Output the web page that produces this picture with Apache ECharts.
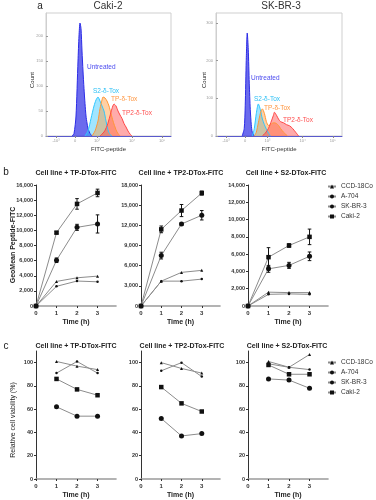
<!DOCTYPE html>
<html>
<head>
  <meta charset="utf-8">
</head>
<body style="margin: 0; background: #fff">
  <div id="container" style="width: 376px; height: 500px"></div>
  <script src="https://cdn.jsdelivr.net/npm/echarts@6/dist/echarts.min.js"></script>
  <script>
    // ---- panel a : flow histograms (x = FITC channel position, y = count)
    var histTicks = [10, 29, 51, 86, 116];
    var histTickLabels = ['-10³', '0', '10³', '10⁴', '10⁵'];

    var cakiUntreated = [[26,0],[28,5],[30,40],[32,150],[33,200],[34,226],[35,215],[36,170],[37,130],[38,95],[39,65],[40,40],[41,26],[42,15],[44,5],[46,0]];
    var cakiS2 = [[39,0],[42,10],[45,35],[48,60],[50,72],[52,78],[54,70],[56,60],[58,50],[60,30],[62,12],[64,3],[66,0]];
    var cakiTP = [[46,0],[49,10],[52,30],[54,55],[56,72],[57,78],[59,76],[61,70],[63,60],[65,45],[67,30],[69,18],[71,8],[74,0]];
    var cakiTP2 = [[54,0],[58,8],[61,20],[64,40],[66,55],[68,64],[70,60],[72,50],[74,42],[76,35],[78,25],[80,18],[82,10],[84,4],[86,0]];

    var skUntreated = [[26,0],[28,20],[29,80],[30,200],[31,273],[32,230],[33,140],[34,70],[35,30],[36,10],[38,0]];
    var skS2 = [[36,0],[38,20],[40,60],[42,85],[44,70],[46,45],[48,30],[50,18],[52,8],[54,0]];
    var skTP = [[38,0],[40,10],[42,35],[44,60],[46,72],[48,60],[50,38],[52,28],[54,30],[56,34],[58,35],[60,33],[62,28],[64,20],[67,10],[71,0]];
    var skTP2 = [[46,0],[49,8],[52,20],[55,40],[57,55],[58,63],[60,55],[62,45],[64,38],[67,35],[70,30],[73,27],[76,20],[79,10],[82,0]];

    // ---- panel b : GeoMean Peptide-FITC vs time
    var times = [0, 1, 2, 3];
    var lines = ['CCD-18Co', 'A-704', 'SK-BR-3', 'Caki-2'];

    var tpCCD = [0, 3250, 3730, 3950];
    var tpA704 = [0, 2600, 3300, 3200];
    var tpSKBR3 = [0, 6050, 10400, 10850];
    var tpCaki = [0, 9700, 13500, 14950];
    var tpSKBR3Err = [0, 300, 400, 1200];
    var tpCakiErr = [0, 150, 700, 500];

    var tp2CCD = [0, 3700, 5000, 5300];
    var tp2A704 = [0, 3700, 3700, 4000];
    var tp2SKBR3 = [0, 7500, 12200, 13500];
    var tp2Caki = [0, 11400, 14200, 16800];
    var tp2SKBR3Err = [0, 500, 200, 700];
    var tp2CakiErr = [0, 500, 900, 300];

    var s2CCD = [0, 1600, 1550, 1550];
    var s2A704 = [0, 1350, 1400, 1350];
    var s2SKBR3 = [0, 4300, 4700, 5750];
    var s2Caki = [0, 5650, 7000, 8000];
    var s2SKBR3Err = [0, 400, 350, 500];
    var s2CakiErr = [0, 1100, 200, 900];

    // ---- panel c : relative cell viability (%)
    var vTimes = [1, 2, 3];
    var vTpCCD = [101, 97, 94];
    var vTpA704 = [91, 101, 91];
    var vTpSKBR3 = [62, 54, 54];
    var vTpCaki = [86, 77, 72];

    var vTp2CCD = [100, 95, 91];
    var vTp2A704 = [93, 100, 88];
    var vTp2SKBR3 = [52, 37, 39];
    var vTp2Caki = [79, 65, 58];

    var vS2CCD = [101, 96, 107];
    var vS2A704 = [99, 96, 94];
    var vS2SKBR3 = [86, 85, 78];
    var vS2Caki = [98, 90, 90];

    var dom = document.getElementById('container');
    var myChart = echarts.init(dom, null, { renderer: 'canvas' });
    var font = 'Arial';

    var markers = {
      'CCD-18Co': { symbol: 'triangle', size: 3 },
      'A-704': { symbol: 'circle', size: 2.5 },
      'SK-BR-3': { symbol: 'circle', size: 5 },
      'Caki-2': { symbol: 'rect', size: 4.5 }
    };

    function zip(xs, ys) {
      return xs.map(function (x, i) { return [x, ys[i]]; });
    }

    function histSeries(name, data, idx, color, opacity) {
      return {
        name: name,
        type: 'line',
        xAxisIndex: idx,
        yAxisIndex: idx,
        data: data,
        smooth: 0.25,
        symbol: 'none',
        lineStyle: { color: color, width: 1 },
        areaStyle: { color: color, opacity: opacity },
        silent: true
      };
    }

    function lineSeries(name, xs, ys, idx) {
      return {
        name: name,
        type: 'line',
        xAxisIndex: idx,
        yAxisIndex: idx,
        data: zip(xs, ys),
        symbol: markers[name].symbol,
        symbolSize: markers[name].size,
        showSymbol: true,
        itemStyle: { color: '#111' },
        lineStyle: { color: '#8c8c8c', width: 1 },
        z: 3
      };
    }

    function errorSeries(vals, errs, idx) {
      var data = [];
      times.forEach(function (t, i) {
        if (errs[i] > 0) data.push([t, vals[i] - errs[i], vals[i] + errs[i]]);
      });
      return {
        type: 'custom',
        xAxisIndex: idx,
        yAxisIndex: idx,
        data: data,
        encode: { x: 0, y: [1, 2] },
        z: 4,
        renderItem: function (params, api) {
          var x = api.value(0);
          var lo = api.coord([x, api.value(1)]);
          var hi = api.coord([x, api.value(2)]);
          var w = 1.8;
          var st = { stroke: '#111', lineWidth: 1 };
          return {
            type: 'group',
            children: [
              { type: 'line', shape: { x1: lo[0], y1: lo[1], x2: hi[0], y2: hi[1] }, style: st },
              { type: 'line', shape: { x1: lo[0] - w, y1: lo[1], x2: lo[0] + w, y2: lo[1] }, style: st },
              { type: 'line', shape: { x1: hi[0] - w, y1: hi[1], x2: hi[0] + w, y2: hi[1] }, style: st }
            ]
          };
        }
      };
    }

    var grids = [
      { left: 46, top: 13, width: 125, height: 123, show: true, borderColor: '#cfcfcf', borderWidth: 1 },
      { left: 216, top: 13, width: 126, height: 123, show: true, borderColor: '#cfcfcf', borderWidth: 1 },
      { left: 36, top: 185, width: 80, height: 121 },
      { left: 141, top: 185, width: 79, height: 121 },
      { left: 248, top: 185, width: 80, height: 121 },
      { left: 36, top: 351, width: 80, height: 130 },
      { left: 141, top: 351, width: 79, height: 130 },
      { left: 248, top: 351, width: 80, height: 130 }
    ];

    function histX(idx) {
      return {
        type: 'value', gridIndex: idx, min: 0, max: 125,
        name: 'FITC-peptide', nameLocation: 'middle', nameGap: 10,
        nameTextStyle: { fontSize: 6, color: '#333', fontFamily: font },
        axisLine: { lineStyle: { color: '#5a5acc', width: 1 } },
        axisTick: { customValues: histTicks, length: 2, lineStyle: { color: '#888' } },
        axisLabel: {
          customValues: histTicks, fontSize: 4, color: '#999', margin: 3, fontFamily: font,
          formatter: function (v) { return histTickLabels[histTicks.indexOf(v)]; }
        },
        splitLine: { show: false }
      };
    }

    function histY(idx, max, ticks) {
      return {
        type: 'value', gridIndex: idx, min: 0, max: max,
        axisLine: { show: true, lineStyle: { color: '#cfcfcf' } },
        axisTick: { customValues: ticks, length: 2, inside: true, lineStyle: { color: '#999' } },
        axisLabel: { customValues: ticks, fontSize: 4, color: '#999', margin: 3, fontFamily: font },
        splitLine: { show: false }
      };
    }

    function timeX(idx) {
      return {
        type: 'value', gridIndex: idx, min: 0, max: 3.9,
        name: 'Time (h)', nameLocation: 'middle', nameGap: 13,
        nameTextStyle: { fontSize: 7, fontWeight: 'bold', color: '#222', fontFamily: font },
        axisLine: { lineStyle: { color: '#9a9a9a', width: 1.6 } },
        axisTick: { customValues: [0, 1, 2, 3], length: 2, lineStyle: { color: '#333' } },
        axisLabel: { customValues: [0, 1, 2, 3], fontSize: 6, fontWeight: 'bold', color: '#333', margin: 4, fontFamily: font },
        splitLine: { show: false }
      };
    }

    function valueY(idx, max, interval) {
      return {
        type: 'value', gridIndex: idx, min: 0, max: max, interval: interval,
        axisLine: { show: true, lineStyle: { color: '#333', width: 1 } },
        axisTick: { show: true, length: 2, lineStyle: { color: '#333' } },
        axisLabel: { fontSize: 5.5, fontWeight: 'bold', color: '#333', margin: 3, fontFamily: font },
        splitLine: { show: false }
      };
    }

    function viaY(idx) {
      return {
        type: 'value', gridIndex: idx, min: 0, max: 110,
        axisLine: { show: true, lineStyle: { color: '#333', width: 1 } },
        axisTick: { show: true, customValues: [0, 20, 40, 60, 80, 100], length: 2, lineStyle: { color: '#333' } },
        axisLabel: { customValues: [0, 20, 40, 60, 80, 100], fontSize: 5.5, fontWeight: 'bold', color: '#333', margin: 3, fontFamily: font },
        splitLine: { show: false }
      };
    }

    var series = [
      histSeries('Untreated', cakiUntreated, 0, '#2c2ce6', 0.7),
      histSeries('S2', cakiS2, 0, '#2ec6ff', 0.45),
      histSeries('TP', cakiTP, 0, '#ff9636', 0.45),
      histSeries('TP2', cakiTP2, 0, '#ff4545', 0.45),
      histSeries('Untreated', skUntreated, 1, '#2c2ce6', 0.7),
      histSeries('S2', skS2, 1, '#2ec6ff', 0.45),
      histSeries('TP', skTP, 1, '#ff9636', 0.45),
      histSeries('TP2', skTP2, 1, '#ff4545', 0.45),

      lineSeries('CCD-18Co', times, tpCCD, 2),
      lineSeries('A-704', times, tpA704, 2),
      lineSeries('SK-BR-3', times, tpSKBR3, 2),
      lineSeries('Caki-2', times, tpCaki, 2),
      errorSeries(tpSKBR3, tpSKBR3Err, 2),
      errorSeries(tpCaki, tpCakiErr, 2),

      lineSeries('CCD-18Co', times, tp2CCD, 3),
      lineSeries('A-704', times, tp2A704, 3),
      lineSeries('SK-BR-3', times, tp2SKBR3, 3),
      lineSeries('Caki-2', times, tp2Caki, 3),
      errorSeries(tp2SKBR3, tp2SKBR3Err, 3),
      errorSeries(tp2Caki, tp2CakiErr, 3),

      lineSeries('CCD-18Co', times, s2CCD, 4),
      lineSeries('A-704', times, s2A704, 4),
      lineSeries('SK-BR-3', times, s2SKBR3, 4),
      lineSeries('Caki-2', times, s2Caki, 4),
      errorSeries(s2SKBR3, s2SKBR3Err, 4),
      errorSeries(s2Caki, s2CakiErr, 4),

      lineSeries('CCD-18Co', vTimes, vTpCCD, 5),
      lineSeries('A-704', vTimes, vTpA704, 5),
      lineSeries('SK-BR-3', vTimes, vTpSKBR3, 5),
      lineSeries('Caki-2', vTimes, vTpCaki, 5),

      lineSeries('CCD-18Co', vTimes, vTp2CCD, 6),
      lineSeries('A-704', vTimes, vTp2A704, 6),
      lineSeries('SK-BR-3', vTimes, vTp2SKBR3, 6),
      lineSeries('Caki-2', vTimes, vTp2Caki, 6),

      lineSeries('CCD-18Co', vTimes, vS2CCD, 7),
      lineSeries('A-704', vTimes, vS2A704, 7),
      lineSeries('SK-BR-3', vTimes, vS2SKBR3, 7),
      lineSeries('Caki-2', vTimes, vS2Caki, 7)
    ];

    function txt(x, y, text, o) {
      o = o || {};
      return {
        type: 'text', x: x, y: y, rotation: o.rot || 0, silent: true,
        style: {
          text: text, fill: o.color || '#222', fontSize: o.size || 7,
          fontWeight: o.bold ? 'bold' : 'normal', fontFamily: font,
          textAlign: o.align || 'center', textVerticalAlign: 'middle'
        }
      };
    }

    var graphics = [
      txt(40, 6, 'a', { size: 10 }),
      txt(108, 6, 'Caki-2', { size: 10, color: '#333' }),
      txt(281, 6, 'SK-BR-3', { size: 10, color: '#333' }),
      txt(32, 80, 'Count', { size: 6, rot: Math.PI / 2 }),
      txt(204, 80, 'Count', { size: 6, rot: Math.PI / 2 }),
      txt(87, 67, 'Untreated', { size: 6.5, color: '#4b4bef', align: 'left' }),
      txt(93, 91, 'S2-δ-Tox', { size: 6.5, color: '#2fc0f5', align: 'left' }),
      txt(111, 99, 'TP-δ-Tox', { size: 6.5, color: '#ff9640', align: 'left' }),
      txt(122, 113, 'TP2-δ-Tox', { size: 6.5, color: '#ff5050', align: 'left' }),
      txt(251, 78, 'Untreated', { size: 6.5, color: '#4b4bef', align: 'left' }),
      txt(254, 99, 'S2-δ-Tox', { size: 6.5, color: '#2fc0f5', align: 'left' }),
      txt(264, 108, 'TP-δ-Tox', { size: 6.5, color: '#ff9640', align: 'left' }),
      txt(283, 120, 'TP2-δ-Tox', { size: 6.5, color: '#ff5050', align: 'left' }),

      txt(6, 172, 'b', { size: 10 }),
      txt(76, 173, 'Cell line + TP-DTox-FITC', { size: 7, bold: true }),
      txt(181, 173, 'Cell line + TP2-DTox-FITC', { size: 7, bold: true }),
      txt(286, 173, 'Cell line + S2-DTox-FITC', { size: 7, bold: true }),
      txt(13, 245, 'GeoMean Peptide-FITC', { size: 7, bold: true, rot: Math.PI / 2 }),

      txt(6, 346, 'c', { size: 10 }),
      txt(76, 346, 'Cell line + TP-DTox-FITC', { size: 7, bold: true }),
      txt(182, 346, 'Cell line + TP2-DTox-FITC', { size: 7, bold: true }),
      txt(287, 346, 'Cell line + S2-DTox-FITC', { size: 7, bold: true }),
      txt(13, 420, 'Relative cell viability (%)', { size: 7, rot: Math.PI / 2 })
    ];

    var legendBase = {
      orient: 'vertical', left: 327, itemWidth: 8, itemHeight: 5, itemGap: 3,
      data: lines, selectedMode: false, padding: 0,
      textStyle: { fontSize: 6.5, color: '#333', fontFamily: font }
    };

    var option = {
      animation: false,
      textStyle: { fontFamily: font },
      grid: grids,
      xAxis: [histX(0), histX(1), timeX(2), timeX(3), timeX(4), timeX(5), timeX(6), timeX(7)],
      yAxis: [
        histY(0, 246, [0, 50, 100, 150, 200]),
        histY(1, 326, [0, 100, 200, 300]),
        valueY(2, 16000, 2000),
        valueY(3, 18000, 3000),
        valueY(4, 14000, 2000),
        viaY(5), viaY(6), viaY(7)
      ],
      legend: [
        Object.assign({}, legendBase, { top: 183 }),
        Object.assign({}, legendBase, { top: 359 })
      ],
      series: series,
      graphic: graphics
    };

    myChart.setOption(option);
    window.addEventListener('resize', myChart.resize);
  </script>
</body>
</html>
